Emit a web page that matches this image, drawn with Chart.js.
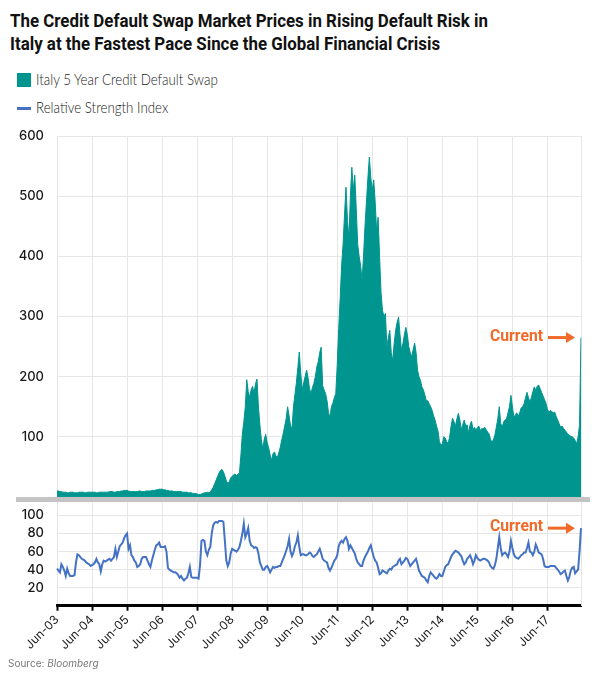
<!DOCTYPE html>
<html>
<head>
<meta charset="utf-8">
<script src="https://cdn.jsdelivr.net/npm/chart.js@4.4.1/dist/chart.umd.min.js"></script>
<style>
  body { margin: 0; background: #fff; }
  #pagina { position: relative; width: 600px; height: 675px; overflow: hidden; font-family: Inter, sans-serif; }
  .titulo { position: absolute; left: 10px; font-family: Roboto, sans-serif; font-weight: 700; font-size: 19px; line-height: 19px; color: #111; white-space: nowrap; transform-origin: left top; }
  .legenda { position: absolute; left: 36px; font-family: Lato, sans-serif; font-weight: 300; font-size: 15px; line-height: 15px; color: #222; white-space: nowrap; transform-origin: left top; }
  .quadrado { position: absolute; left: 17px; top: 73px; width: 14px; height: 14px; background: #00958f; }
  .traco { position: absolute; left: 17px; top: 107px; width: 14px; height: 3px; background: #4472c4; }
  canvas { position: absolute; left: 0; }
  #barra { position: absolute; left: 16px; top: 497px; width: 574px; height: 5px; background: #c4c4c4; }
  #fonte { position: absolute; left: 8px; top: 657px; font-size: 10px; color: #777; }
</style>
</head>
<body>
<div id="pagina">
  <div class="titulo" id="t1" style="top:11px">The Credit Default Swap Market Prices in Rising Default Risk in</div>
  <div class="titulo" id="t2" style="top:34px">Italy at the Fastest Pace Since the Global Financial Crisis</div>
  <div class="quadrado"></div>
  <div class="legenda" id="l1" style="top:72px">Italy 5 Year Credit Default Swap</div>
  <div class="traco"></div>
  <div class="legenda" id="l2" style="top:100px">Relative Strength Index</div>
  <canvas id="cds" width="600" height="390" style="top:120px"></canvas>
  <canvas id="rsi" width="600" height="188" style="top:487px"></canvas>
  <div id="barra"></div>
  <div id="fonte">Source: <i>Bloomberg</i></div>
</div>
<script>
// dados, duas observacoes por mes (jun/2003 a mai/2018)
const rotulosEixo = ['Jun-03', 'Jun-04', 'Jun-05', 'Jun-06', 'Jun-07', 'Jun-08', 'Jun-09', 'Jun-10',
  'Jun-11', 'Jun-12', 'Jun-13', 'Jun-14', 'Jun-15', 'Jun-16', 'Jun-17'];

const cds = [
  10, 10, 9, 9, 8, 8, 8, 7, 7, 8, 8, 8, 7, 7, 7, 8, 8, 8, 8, 7, 7, 8, 8, 8,
  8, 8, 8, 7, 7, 8, 8, 8, 8, 8, 8, 8, 9, 9, 9, 8, 8, 9, 9, 9, 10, 10, 11, 11,
  11, 10, 9, 9, 9, 9, 9, 9, 10, 10, 9, 9, 9, 10, 10, 10, 10, 11, 11, 11, 12, 12, 13, 13,
  13, 12, 12, 11, 11, 10, 10, 10, 9, 9, 9, 9, 9, 9, 8, 8, 8, 8, 7, 7, 7, 6, 6, 6,
  5, 4, 4, 5, 6, 7, 7, 8, 7, 8, 12, 16, 22, 28, 34, 40, 44, 46, 42, 35, 27, 23, 25, 32,
  34, 37, 38, 36, 38, 40, 70, 105, 125, 150, 195, 175, 166, 178, 184, 172, 188, 196, 150, 120, 95, 80, 96, 104,
  90, 82, 70, 61, 72, 75, 68, 66, 74, 83, 95, 106, 118, 130, 150, 135, 118, 114, 150, 170, 190, 215, 241, 205,
  178, 190, 200, 211, 198, 180, 172, 182, 189, 200, 216, 225, 240, 249, 185, 178, 172, 160, 140, 133, 150, 156, 165, 172,
  220, 280, 330, 385, 420, 470, 515, 460, 430, 500, 548, 510, 535, 480, 420, 400, 385, 360, 400, 450, 490, 530, 565, 530,
  510, 527, 490, 440, 465, 400, 340, 310, 300, 305, 249, 265, 277, 240, 227, 255, 277, 290, 299, 270, 244, 255, 270, 282,
  270, 250, 240, 233, 245, 256, 240, 211, 200, 194, 183, 178, 170, 160, 160, 155, 150, 144, 135, 128, 118, 110, 92, 86,
  88, 100, 98, 92, 89, 100, 118, 131, 125, 118, 130, 139, 128, 112, 120, 128, 118, 120, 106, 120, 126, 112, 116, 111,
  115, 118, 110, 114, 113, 116, 112, 108, 105, 96, 91, 95, 103, 116, 130, 150, 122, 116, 125, 128, 130, 140, 150, 169,
  150, 133, 136, 140, 134, 140, 148, 150, 155, 165, 174, 165, 158, 165, 175, 183, 178, 184, 186, 180, 174, 168, 162, 156,
  146, 141, 144, 142, 140, 141, 134, 128, 122, 116, 118, 114, 111, 108, 104, 103, 101, 100, 98, 94, 88, 100, 120, 265
];

const rsi = [
  41, 39, 37, 46, 43, 39, 33, 41, 36, 33, 33, 33, 34, 48, 57, 56, 54, 52, 51, 50, 48, 47, 46, 44,
  45, 46, 48, 52, 48, 46, 38, 46, 50, 49, 50, 51, 52, 50, 52, 54, 63, 54, 60, 66, 68, 70, 75, 78,
  80, 63, 67, 56, 54, 50, 48, 43, 44, 46, 52, 54, 54, 54, 50, 46, 43, 50, 56, 62, 67, 68, 70, 65,
  65, 65, 66, 60, 42, 40, 39, 38, 37, 37, 36, 34, 31, 33, 30, 28, 30, 31, 36, 43, 32, 31, 31, 31,
  31, 30, 45, 72, 73, 72, 60, 56, 62, 65, 80, 89, 92, 93, 92, 94, 94, 94, 93, 72, 50, 44, 48, 58,
  63, 62, 61, 60, 62, 65, 72, 80, 91, 76, 80, 86, 72, 67, 66, 64, 65, 64, 58, 48, 44, 40, 40, 43,
  44, 41, 37, 40, 43, 42, 43, 43, 44, 44, 48, 52, 56, 61, 66, 74, 60, 55, 59, 66, 70, 78, 65, 56,
  57, 57, 56, 56, 57, 59, 58, 55, 54, 56, 57, 60, 63, 58, 52, 50, 49, 48, 42, 39, 42, 46, 50, 52,
  56, 66, 70, 72, 70, 74, 76, 72, 63, 67, 64, 61, 58, 52, 48, 46, 44, 44, 50, 54, 57, 60, 64, 67,
  60, 54, 50, 48, 42, 35, 36, 39, 38, 37, 36, 39, 41, 40, 43, 44, 45, 46, 50, 52, 46, 48, 50, 53,
  52, 48, 44, 46, 48, 50, 52, 46, 39, 36, 33, 32, 31, 28, 26, 33, 37, 35, 33, 31, 30, 32, 35, 33,
  33, 38, 43, 45, 46, 50, 54, 57, 59, 61, 60, 59, 57, 55, 50, 46, 48, 52, 54, 56, 52, 46, 50, 56,
  53, 51, 50, 51, 52, 52, 51, 50, 48, 44, 42, 41, 45, 52, 64, 76, 64, 56, 58, 59, 57, 54, 60, 72,
  64, 57, 54, 53, 52, 54, 56, 57, 59, 59, 64, 70, 60, 59, 56, 60, 68, 64, 59, 58, 57, 52, 44, 43,
  43, 43, 44, 44, 44, 44, 42, 40, 38, 35, 36, 38, 39, 33, 28, 32, 39, 42, 43, 36, 38, 40, 60, 86
];

const meses = ['Jan', 'Feb', 'Mar', 'Apr', 'May', 'Jun', 'Jul', 'Aug', 'Sep', 'Oct', 'Nov', 'Dec'];
const rotulos = [];
for (let i = 0; i < cds.length; i++) {
  const m = 5 + Math.floor(i / 2);
  const ano = 2003 + Math.floor(m / 12);
  rotulos.push(meses[m % 12] + '-' + String(ano).slice(2));
}

const corCds = '#00958f';
const corRsi = '#4472c4';
const corLaranja = '#f26a2a';
const corGrade = '#e6e6e6';
const fonteTicks = { family: 'Inter', size: 13, weight: '500' };

// ajusta a largura dos textos ao original
function ajustar(a, b, largura) {
  const k = largura / a.scrollWidth;
  a.style.transform = b.style.transform = `scaleX(${k})`;
}
ajustar(document.getElementById('t1'), document.getElementById('t2'), 478);
ajustar(document.getElementById('l1'), document.getElementById('l2'), 182);

const posTicks = rotulosEixo.map((r, i) => i * 24);

const marcaAtual = {
  id: 'marcaAtual',
  afterDatasetsDraw(chart) {
    const meta = chart.getDatasetMeta(0);
    const p = meta.data[meta.data.length - 1];
    const ctx = chart.ctx;
    const y = p.y;
    const xFim = p.x - 6;
    ctx.save();
    ctx.fillStyle = corLaranja;
    ctx.strokeStyle = corLaranja;
    ctx.lineWidth = 3;
    ctx.beginPath();
    ctx.moveTo(xFim - 27, y);
    ctx.lineTo(xFim - 8, y);
    ctx.stroke();
    ctx.beginPath();
    ctx.moveTo(xFim, y);
    ctx.lineTo(xFim - 9, y - 5.5);
    ctx.lineTo(xFim - 9, y + 5.5);
    ctx.closePath();
    ctx.fill();
    ctx.font = 'bold 16px Roboto';
    const w = ctx.measureText('Current').width;
    ctx.translate(xFim - 32, y - 1);
    ctx.scale(53 / w, 1);
    ctx.textAlign = 'right';
    ctx.textBaseline = 'middle';
    ctx.fillText('Current', 0, 0);
    ctx.restore();
  }
};

function eixoDireito() {
  return {
    position: 'right',
    ticks: { display: false },
    grid: { display: false },
    border: { display: true, color: corGrade, width: 1 },
    afterFit: s => { s.width = 0; }
  };
}

// eixo y: marcas invisiveis de 13px empurram os rotulos para a esquerda
function eixoY(max, valores) {
  return {
    min: 0,
    max: max,
    ticks: { padding: 0, font: fonteTicks, color: '#1a1a1a' },
    grid: { color: corGrade, drawTicks: true, tickLength: 13, tickColor: 'rgba(0,0,0,0)' },
    border: { display: false },
    afterBuildTicks: s => { s.ticks = valores.map(v => ({ value: v })); },
    afterFit: s => { s.width = 57; }
  };
}

new Chart(document.getElementById('cds'), {
  type: 'line',
  data: {
    labels: rotulos,
    datasets: [{
      data: cds,
      fill: 'origin',
      backgroundColor: corCds,
      borderColor: corCds,
      borderWidth: 1,
      pointRadius: 0,
      tension: 0
    }]
  },
  options: {
    responsive: false,
    animation: false,
    layout: { autoPadding: false, padding: { top: 16, right: 19, bottom: 13, left: 0 } },
    plugins: { legend: { display: false }, tooltip: { enabled: false } },
    scales: {
      x: {
        ticks: { display: false },
        grid: { color: corGrade, drawTicks: false },
        border: { display: false },
        afterBuildTicks: s => { s.ticks = posTicks.map(v => ({ value: v })); },
        afterFit: s => { s.height = 0; }
      },
      y: eixoY(600, [100, 200, 300, 400, 500, 600]),
      yR: eixoDireito()
    }
  },
  plugins: [marcaAtual]
});

new Chart(document.getElementById('rsi'), {
  type: 'line',
  data: {
    labels: rotulos,
    datasets: [{
      data: rsi,
      fill: false,
      borderColor: corRsi,
      borderWidth: 2,
      pointRadius: 0,
      tension: 0
    }]
  },
  options: {
    responsive: false,
    animation: false,
    layout: { autoPadding: false, padding: { top: 15, right: 19, bottom: 0, left: 0 } },
    plugins: { legend: { display: false }, tooltip: { enabled: false } },
    scales: {
      x: {
        ticks: {
          autoSkip: false,
          maxRotation: 45,
          minRotation: 45,
          padding: 2,
          font: { family: 'Inter', size: 12 },
          color: '#1a1a1a',
          callback: v => (v % 24 === 0 ? rotulosEixo[v / 24] : '')
        },
        grid: { color: corGrade, tickLength: 5, tickColor: '#000', tickWidth: 2 },
        border: { display: true, color: '#000', width: 3 },
        afterBuildTicks: s => { s.ticks = posTicks.map(v => ({ value: v })); },
        afterFit: s => { s.height = 69.3; }
      },
      y: eixoY(115, [20, 40, 60, 80, 100]),
      yR: eixoDireito()
    }
  },
  plugins: [marcaAtual]
});
</script>
</body>
</html>
